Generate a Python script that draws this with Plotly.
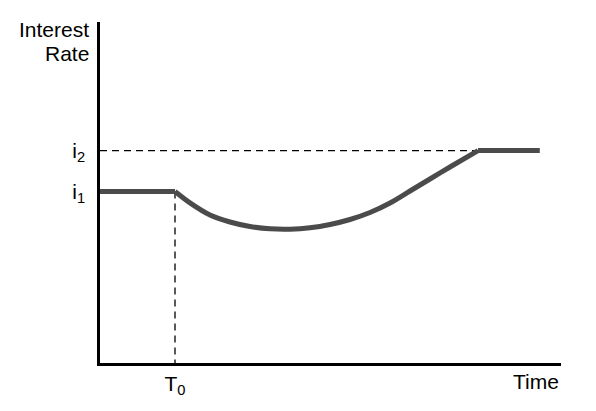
import plotly.graph_objects as go

# Data (abstract units: time 0-100, rate 0-100)
curve_t = [16.27, 19.52, 23.86, 28.20, 32.54, 36.88, 41.21, 45.55, 49.89, 54.23, 58.57, 62.91, 67.25, 71.58, 75.92, 82.0]
curve_r = [50.29, 46.95, 43.40, 41.35, 40.03, 39.35, 39.24, 39.65, 40.62, 42.08, 44.13, 46.92, 50.44, 53.96, 57.48, 62.3]
start_t = 0
end_t = 95.4
i1 = 50.29
i2 = 62.3
T0 = 16.27
t_cross = 82.0
rate_ticks = [i1, i2]
rate_labels = ["i<sub>1</sub>", "i<sub>2</sub>"]
time_ticks = [T0]
time_labels = ["T<sub>0</sub>"]

LINE = dict(color="#4b4b4b", width=5)
DASH = dict(color="black", width=1.3, dash="7px,5px")

fig = go.Figure()
# dashed guides
fig.add_trace(go.Scatter(x=[start_t, t_cross], y=[i2, i2], mode="lines", line=DASH, hoverinfo="skip"))
fig.add_trace(go.Scatter(x=[T0, T0], y=[i1, 0], mode="lines", line=DASH, hoverinfo="skip"))
# main path: flat, curve, flat
fig.add_trace(go.Scatter(x=[start_t, T0], y=[i1, i1], mode="lines", line=LINE, hoverinfo="skip"))
fig.add_trace(go.Scatter(x=curve_t, y=curve_r, mode="lines",
                         line=dict(**LINE, shape="spline", smoothing=0.8), hoverinfo="skip"))
fig.add_trace(go.Scatter(x=[t_cross, end_t], y=[i2, i2], mode="lines", line=LINE, hoverinfo="skip"))

font = dict(family="Liberation Sans, Arial, sans-serif", size=21, color="black")

fig.update_layout(
    width=596, height=411,
    margin=dict(l=100, r=35, t=22, b=48),
    paper_bgcolor="white", plot_bgcolor="white",
    showlegend=False,
    font=font,
    xaxis=dict(range=[0, 100], showgrid=False, zeroline=False, showline=True,
               linecolor="black", linewidth=2.5, tickvals=time_ticks, ticktext=time_labels,
               ticks="", ticklabelstandoff=0, tickfont=font, fixedrange=True),
    yaxis=dict(range=[0, 100], showgrid=False, zeroline=False, showline=True,
               linecolor="black", linewidth=2.5, tickvals=rate_ticks, ticktext=rate_labels,
               ticks="", ticklabelstandoff=8, tickfont=font, fixedrange=True),
    annotations=[
        dict(text="Interest", xref="paper", yref="paper", x=-0.0195, y=0.979,
             xanchor="right", yanchor="middle", showarrow=False, font=font),
        dict(text="Rate", xref="paper", yref="paper", x=-0.0195, y=0.909,
             xanchor="right", yanchor="middle", showarrow=False, font=font),
        dict(text="Time", xref="paper", yref="paper", x=1.0, y=-0.053,
             xanchor="right", yanchor="middle", showarrow=False, font=font),
    ],
)

fig.write_html("out.html", config={"displayModeBar": False},
               post_script="document.body.style.margin='0';document.body.style.padding='0';")
